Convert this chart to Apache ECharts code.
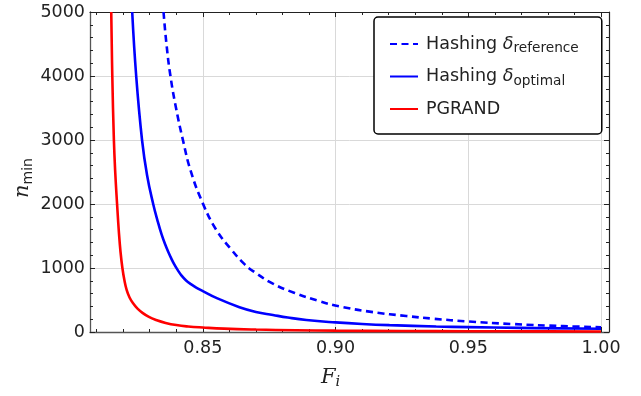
<!DOCTYPE html>
<html>
<head>
<meta charset="UTF-8">
<title>n_min vs F_i</title>
<script type="text/javascript" src="https://cdn.jsdelivr.net/npm/echarts@6/dist/echarts.min.js"></script>
<style>
  html, body { margin: 0; padding: 0; background: #fff; }
  #main { width: 641px; height: 396px; }
</style>
</head>
<body>
<div id="main"></div>
<script type="text/javascript">
// Hashing, delta_reference (dashed)
var fRef = [0.8352, 0.8363, 0.8378, 0.8400, 0.8425, 0.8454, 0.8500, 0.8550, 0.8607, 0.8657, 0.8695, 0.8764, 0.8846, 0.8933, 0.9015, 0.9141, 0.9266, 0.9367, 0.9500, 0.9668, 0.9856, 1.0000];
var nRef = [5000, 4500, 4000, 3480, 3000, 2520, 2010, 1600, 1290, 1060, 935, 755, 610, 490, 400, 310, 250, 208, 165, 124, 92, 74];
// Hashing, delta_optimal (solid blue)
var fOpt = [0.8234, 0.8249, 0.8271, 0.8290, 0.8313, 0.8330, 0.8345, 0.8358, 0.8370, 0.8381, 0.8392, 0.8405, 0.8420, 0.8437, 0.8455, 0.8475, 0.8500, 0.8555, 0.8638, 0.8700, 0.8764, 0.8820, 0.8890, 0.9000, 0.9100, 0.9203, 0.9379, 0.9500, 0.9693, 1.0000];
var nOpt = [5000, 4000, 3000, 2450, 2000, 1730, 1520, 1370, 1250, 1150, 1060, 970, 880, 805, 748, 695, 640, 525, 388, 314, 266, 226, 187, 150, 125, 107, 86, 76, 64, 50];
// PGRAND (red)
var fPg = [0.8155, 0.8159, 0.8165, 0.8170, 0.8177, 0.8184, 0.8190, 0.8197, 0.8205, 0.8213, 0.8224, 0.8238, 0.8254, 0.8274, 0.8297, 0.8324, 0.8360, 0.8400, 0.8445, 0.8500, 0.8580, 0.8701, 0.8850, 0.9000, 0.9250, 0.9500, 0.9750, 1.0000];
var nPg = [5000, 4000, 3000, 2500, 2000, 1550, 1250, 1000, 800, 660, 540, 445, 365, 295, 235, 188, 142, 108, 86, 70, 52, 38, 28, 21, 15, 12, 10, 8];

var xMajor = [0.85, 0.90, 0.95, 1.00];
var xMinor = [0.81, 0.82, 0.83, 0.84, 0.85, 0.86, 0.87, 0.88, 0.89, 0.90, 0.91, 0.92, 0.93, 0.94, 0.95, 0.96, 0.97, 0.98, 0.99, 1.00];

function pairs(xs, ys) {
  var out = [];
  for (var i = 0; i < xs.length; i++) out.push([xs[i], ys[i]]);
  return out;
}

var chart = echarts.init(document.getElementById('main'));

var sans = 'DejaVu Sans';
var serif = 'DejaVu Serif';
var xMin = 0.8075, xMax = 1.003;

var legendText = {
  'ref': '{t|Hashing }{d|δ}{s|reference}',
  'opt': '{t|Hashing }{d|δ}{s|optimal}',
  'pg': '{t|PGRAND}'
};

// extra axes that only carry tick marks (top frame, minor ticks)
function tickAxis(pos, vals, len, showLine) {
  return {
    type: 'value', min: xMin, max: xMax, position: pos,
    axisLine: { show: showLine, lineStyle: { color: '#222', width: 1.2 } },
    axisTick: { show: true, inside: true, length: len, customValues: vals, lineStyle: { color: '#222', width: 1 } },
    axisLabel: { show: false },
    splitLine: { show: false }
  };
}

var option = {
  animation: false,
  backgroundColor: '#fff',
  grid: { left: 90, right: 32, top: 12, bottom: 64, outerBoundsMode: 'none' },
  legend: {
    orient: 'vertical',
    left: 374, top: 17,
    padding: [18, 23, 16, 15],
    itemWidth: 28, itemHeight: 14, itemGap: 12,
    borderColor: '#000', borderWidth: 1.5, borderRadius: 4,
    backgroundColor: '#fff',
    itemStyle: { opacity: 0 },
    data: ['ref', 'opt', 'pg'],
    formatter: function (name) { return legendText[name]; },
    textStyle: {
      fontFamily: sans, fontSize: 17.5, color: '#222', padding: [0, 0, 0, 3],
      rich: {
        t: { fontFamily: sans, fontSize: 17.5, color: '#222' },
        d: { fontFamily: sans, fontSize: 17.5, fontStyle: 'italic', color: '#222' },
        s: { fontFamily: sans, fontSize: 13.7, color: '#222', padding: [9, 0, 0, 0] }
      }
    }
  },
  xAxis: [
    {
      type: 'value', min: xMin, max: xMax, position: 'bottom',
      name: '{f|F}{i|i}', nameLocation: 'middle', nameGap: 33, nameMoveOverlap: false,
      nameTextStyle: {
        padding: [0, 38, 0, 0],
        rich: {
          f: { fontFamily: serif, fontStyle: 'italic', fontSize: 21, color: '#222' },
          i: { fontFamily: serif, fontStyle: 'italic', fontSize: 14.5, color: '#222', padding: [10, 0, 0, 0] }
        }
      },
      axisLine: { show: true, lineStyle: { color: '#555', width: 1.3 } },
      axisTick: { show: true, inside: true, length: 5, customValues: xMajor, lineStyle: { color: '#222', width: 1 } },
      axisLabel: {
        customValues: xMajor, fontFamily: sans, fontSize: 17.5, color: '#222', margin: 7,
        formatter: function (v) { return v.toFixed(2); }
      },
      splitLine: { show: true, lineStyle: { color: '#d9d9d9', width: 1 } }
    },
    tickAxis('bottom', xMinor, 3, false),
    tickAxis('top', xMajor, 5, true),
    tickAxis('top', xMinor, 3, false)
  ],
  yAxis: [
    {
      type: 'value', min: 0, max: 5000, interval: 1000, position: 'left',
      name: '{n|n}{m|min}', nameLocation: 'middle', nameRotate: 90, nameGap: 55, nameMoveOverlap: false,
      nameTextStyle: {
        padding: [0, 12, 0, 0],
        rich: {
          n: { fontFamily: serif, fontStyle: 'italic', fontSize: 21, color: '#222' },
          m: { fontFamily: sans, fontSize: 14, color: '#222', padding: [10, 0, 0, 0] }
        }
      },
      axisLine: { show: true, lineStyle: { color: '#555', width: 1.3 } },
      axisTick: { show: true, inside: true, length: 5, lineStyle: { color: '#222', width: 1 } },
      minorTick: { show: true, splitNumber: 5, length: 3, lineStyle: { color: '#222', width: 1 } },
      axisLabel: {
        fontFamily: sans, fontSize: 17.5, color: '#222', margin: 5,
        formatter: function (v) { return String(v); }
      },
      splitLine: { show: true, lineStyle: { color: '#d9d9d9', width: 1 } }
    },
    {
      type: 'value', min: 0, max: 5000, interval: 1000, position: 'right',
      axisLine: { show: true, lineStyle: { color: '#222', width: 1.2 } },
      axisTick: { show: true, inside: true, length: 5, lineStyle: { color: '#222', width: 1 } },
      minorTick: { show: true, splitNumber: 5, length: 3, lineStyle: { color: '#222', width: 1 } },
      axisLabel: { show: false },
      splitLine: { show: false }
    }
  ],
  series: [
    {
      name: 'ref', type: 'line', xAxisIndex: 0, yAxisIndex: 0,
      data: pairs(fRef, nRef), showSymbol: false, smooth: 0.45,
      lineStyle: { color: '#0000ff', width: 2.6, type: [7, 4.5] },
      itemStyle: { color: '#0000ff' }
    },
    {
      name: 'opt', type: 'line', xAxisIndex: 0, yAxisIndex: 0,
      data: pairs(fOpt, nOpt), showSymbol: false, smooth: 0.45,
      lineStyle: { color: '#0000ff', width: 2.6 },
      itemStyle: { color: '#0000ff' }
    },
    {
      name: 'pg', type: 'line', xAxisIndex: 0, yAxisIndex: 0,
      data: pairs(fPg, nPg), showSymbol: false, smooth: 0.45,
      lineStyle: { color: '#ff0000', width: 2.6 },
      itemStyle: { color: '#ff0000' }
    }
  ]
};

chart.setOption(option);
</script>
</body>
</html>
